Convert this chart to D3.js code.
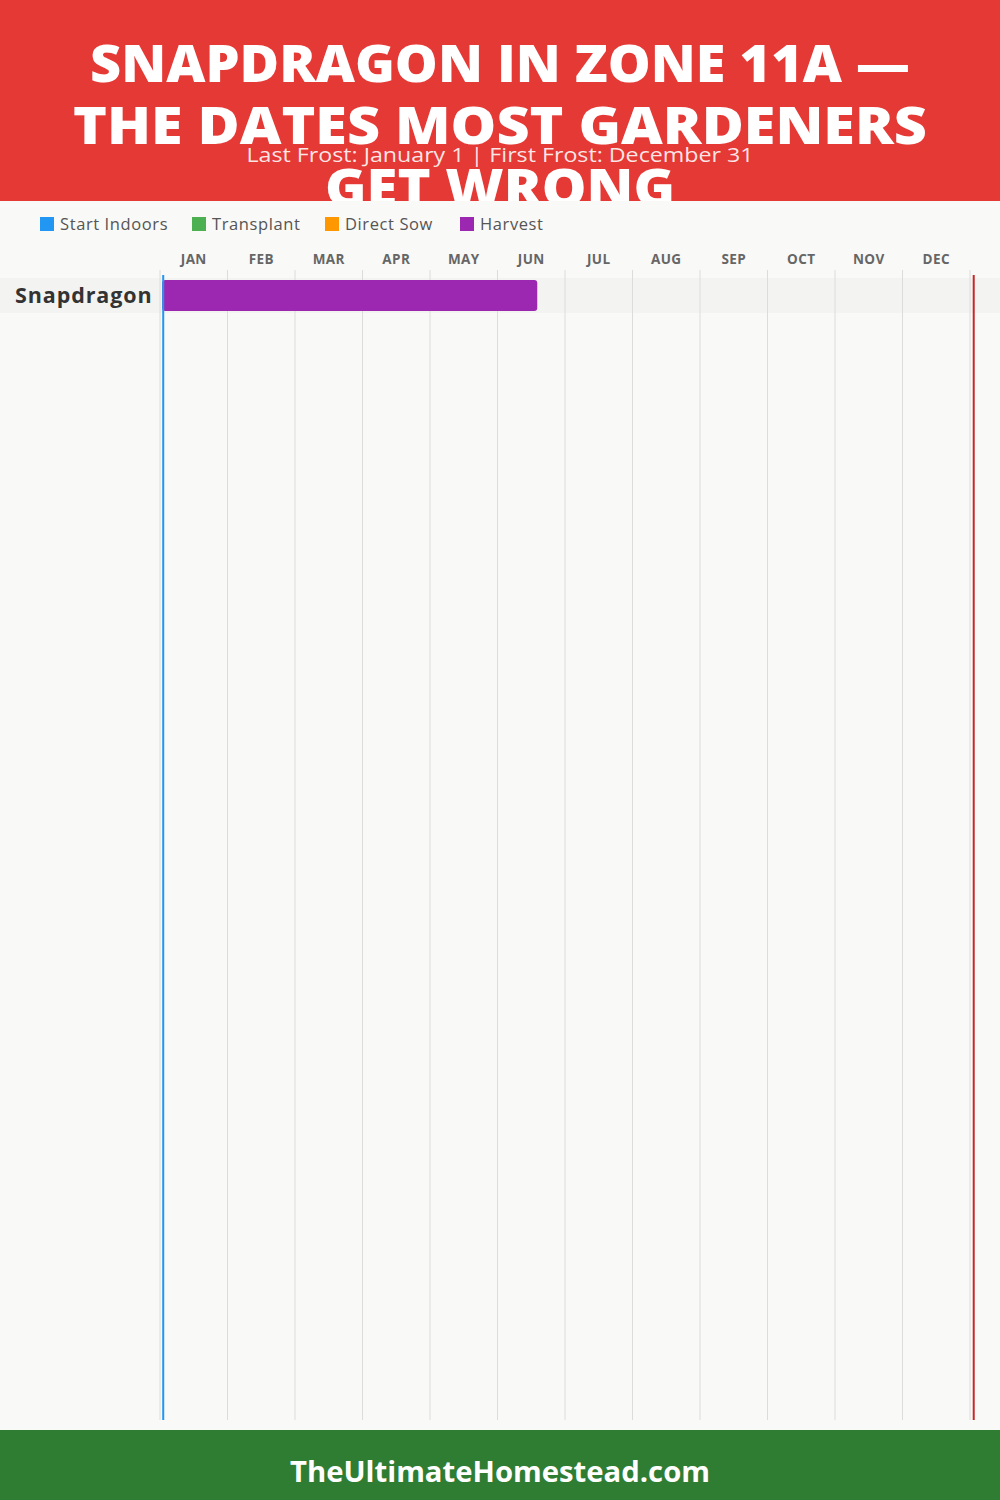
<!DOCTYPE html>
<html>
<head>
<meta charset="utf-8">
<script src="https://cdn.jsdelivr.net/npm/d3@7"></script>
<style>
    html, body { margin: 0; padding: 0; background: #f9f9f7; }
    svg { display: block; }
</style>
</head>
<body>
<div id="chart"></div>
<script>
// chart data
const titleLines = ['SNAPDRAGON IN ZONE 11A \u2014', 'THE DATES MOST GARDENERS', 'GET WRONG'];
const subtitle = 'Last Frost: January 1 | First Frost: December 31';
const months = ['JAN', 'FEB', 'MAR', 'APR', 'MAY', 'JUN', 'JUL', 'AUG', 'SEP', 'OCT', 'NOV', 'DEC'];
const legendNames = ['Start Indoors', 'Transplant', 'Direct Sow', 'Harvest'];
const legendColors = ['#2196f3', '#4caf50', '#ff9800', '#9c27b0'];
const crops = ['Snapdragon'];
// [crop, phase, start day of year, end day of year]
const phases = [
    ['Snapdragon', 'Harvest', 1, 170]
];
const lastFrostDay = 1;
const firstFrostDay = 366;
const footer = 'TheUltimateHomestead.com';

const width = 1000,
    height = 1500,
    margins = { left: 160, right: 30, top: 270, bottom: 80 };

const svg = d3.select('#chart').append('svg')
    .attr('width', width)
    .attr('height', height);

const color = d3.scaleOrdinal().domain(legendNames).range(legendColors);

// header
svg.append('rect')
    .attr('width', width)
    .attr('height', 201)
    .attr('fill', '#e53935');

svg.append('clipPath')
    .attr('id', 'head-clip')
    .append('rect')
    .attr('width', width)
    .attr('height', 201);

const head = svg.append('g').attr('clip-path', 'url(#head-clip)');

const titleWidths = [820, 854, 350];
titleLines.forEach((t, i) => {
    head.append('text')
        .attr('x', width / 2)
        .attr('y', 82 + i * 62)
        .attr('text-anchor', 'middle')
        .attr('textLength', titleWidths[i])
        .attr('lengthAdjust', 'spacingAndGlyphs')
        .style('font-family', '"Open Sans", sans-serif')
        .style('font-weight', 800)
        .style('font-size', '52px')
        .attr('fill', '#fff')
        .text(t);
});

head.append('text')
    .attr('x', width / 2)
    .attr('y', 162)
    .attr('text-anchor', 'middle')
    .attr('textLength', 507)
    .attr('lengthAdjust', 'spacingAndGlyphs')
    .style('font-family', '"Open Sans", sans-serif')
    .style('font-size', '20.5px')
    .attr('fill', 'rgba(255,255,255,.88)')
    .text(subtitle);

// legend
const legendX = [40, 192, 325, 460];
const legend = svg.append('g').attr('transform', 'translate(0, 217)');
legendNames.forEach((name, i) => {
    const g = legend.append('g').attr('transform', 'translate(' + legendX[i] + ', 0)');
    g.append('rect')
        .attr('width', 14)
        .attr('height', 14)
        .attr('fill', color(name));
    g.append('text')
        .attr('x', 20)
        .attr('y', 13)
        .style('font-family', '"Open Sans", sans-serif')
        .style('font-weight', 500)
        .style('font-size', '16.5px')
        .style('letter-spacing', '0.6px')
        .attr('fill', '#555')
        .text(name);
});

// scales
const plotBottom = 1420;
const xMonth = d3.scaleLinear()
    .domain([0, 12])
    .range([margins.left, width - margins.right]);
const xDay = d3.scaleLinear()
    .domain([0, 365])
    .range([margins.left, width - margins.right]);

const rowH = 35;
const y = d3.scaleBand()
    .domain(crops)
    .range([278, 278 + rowH * crops.length]);

// row bands
svg.selectAll('.band')
    .data(crops)
    .enter().append('rect')
    .attr('class', 'band')
    .attr('x', 0)
    .attr('y', d => y(d))
    .attr('width', width)
    .attr('height', y.bandwidth())
    .attr('fill', '#f3f3f1');

// month gridlines
svg.selectAll('.grid')
    .data(d3.range(13))
    .enter().append('line')
    .attr('class', 'grid')
    .attr('x1', d => xMonth(d))
    .attr('x2', d => xMonth(d))
    .attr('y1', margins.top)
    .attr('y2', plotBottom)
    .attr('stroke', '#dcdcdc')
    .attr('stroke-width', 1);

// month labels
svg.selectAll('.month')
    .data(months)
    .enter().append('text')
    .attr('class', 'month')
    .attr('x', (d, i) => xMonth(i + 0.5))
    .attr('y', 264)
    .attr('text-anchor', 'middle')
    .style('font-family', '"Open Sans", sans-serif')
    .style('font-weight', 700)
    .style('font-size', '13.5px')
    .style('letter-spacing', '0.4px')
    .attr('fill', '#666')
    .text(d => d);

// crop labels
svg.selectAll('.crop')
    .data(crops)
    .enter().append('text')
    .attr('class', 'crop')
    .attr('x', 15)
    .attr('y', d => y(d) + y.bandwidth() / 2 + 7)
    .style('font-family', '"Open Sans", sans-serif')
    .style('font-weight', 700)
    .style('font-size', '21.5px')
    .style('letter-spacing', '0.9px')
    .attr('fill', '#333')
    .text(d => d);

// phase bars
svg.selectAll('.bar')
    .data(phases)
    .enter().append('rect')
    .attr('class', 'bar')
    .attr('x', d => xDay(d[2]))
    .attr('y', d => y(d[0]) + 2)
    .attr('width', d => xDay(d[3]) - xDay(d[2]))
    .attr('height', y.bandwidth() - 4)
    .attr('rx', 3)
    .attr('fill', d => color(d[1]));

// frost lines
svg.append('rect')
    .attr('x', xDay(lastFrostDay))
    .attr('y', 275)
    .attr('width', 2)
    .attr('height', plotBottom - 275)
    .attr('fill', '#2196f3');

svg.append('rect')
    .attr('x', xDay(firstFrostDay) + 0.5)
    .attr('y', 275)
    .attr('width', 2)
    .attr('height', plotBottom - 275)
    .attr('fill', '#c62828');

// footer
svg.append('rect')
    .attr('y', 1430)
    .attr('width', width)
    .attr('height', 70)
    .attr('fill', '#2e7d32');

svg.append('text')
    .attr('x', width / 2)
    .attr('y', 1482)
    .attr('text-anchor', 'middle')
    .attr('textLength', 420)
    .attr('lengthAdjust', 'spacingAndGlyphs')
    .style('font-family', '"Open Sans", sans-serif')
    .style('font-weight', 700)
    .style('font-size', '28px')
    .attr('fill', '#fff')
    .text(footer);
</script>
</body>
</html>
